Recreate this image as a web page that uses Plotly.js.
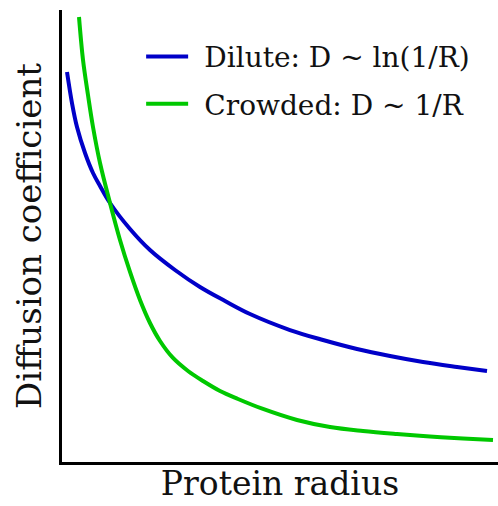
<!DOCTYPE html>
<html>
<head>
<meta charset="utf-8">
<script src="https://cdn.plot.ly/plotly-3.0.1.min.js"></script>
<style>html,body{margin:0;padding:0;background:#fff;}#chart{width:498px;height:506px;}</style>
</head>
<body>
<div id="chart"></div>
<script>
// Arbitrary units
const diluteR = [0.115, 0.229, 0.344, 0.528, 0.711, 0.872, 1.101, 1.560, 2.018, 2.592, 3.165, 3.739, 4.312, 5.229, 5.986, 6.766, 7.523, 8.280, 9.060, 9.748];
const diluteD = [8.628, 7.942, 7.412, 6.836, 6.394, 6.106, 5.730, 5.155, 4.690, 4.248, 3.872, 3.562, 3.274, 2.920, 2.699, 2.500, 2.345, 2.212, 2.102, 2.013];
const crowdedR = [0.390, 0.482, 0.596, 0.711, 0.872, 1.101, 1.330, 1.560, 1.789, 2.018, 2.248, 2.546, 2.890, 3.234, 3.624, 4.037, 4.610, 5.390, 6.147, 6.904, 7.683, 8.440, 9.197, 9.885];
const crowdedD = [9.845, 8.894, 8.119, 7.412, 6.615, 5.730, 4.912, 4.204, 3.584, 3.075, 2.677, 2.301, 2.013, 1.792, 1.571, 1.394, 1.173, 0.929, 0.774, 0.686, 0.619, 0.564, 0.520, 0.487];
const seriesNames = ['Dilute: D ~ ln(1/R)', 'Crowded: D ~ 1/R'];
const xTitle = 'Protein radius';
const yTitle = 'Diffusion coefficient';

const font = 'DejaVu Serif, serif';
const pad = '\u2009\u2009';
const traces = [
  {x: diluteR, y: diluteD, name: pad + seriesNames[0], mode: 'lines', legendgroup: 'a',
   line: {color: 'rgb(0,0,200)', width: 4, shape: 'spline'}},
  {x: crowdedR, y: crowdedD, name: pad + seriesNames[1], mode: 'lines', legendgroup: 'b',
   line: {color: 'rgb(0,200,0)', width: 4, shape: 'spline'}}
];
const layout = {
  width: 498, height: 506,
  margin: {l: 62, r: 0, t: 10, b: 44},
  paper_bgcolor: '#fff', plot_bgcolor: '#fff',
  font: {family: font, color: '#111'},
  showlegend: true,
  legend: {x: 0.1815, y: 0.952, xanchor: 'left', yanchor: 'top', bgcolor: 'rgba(0,0,0,0)',
           font: {family: font, size: 28, color: '#111'}, tracegroupgap: 8, itemwidth: 42},
  xaxis: {range: [0, 10], showgrid: false, zeroline: false, showticklabels: false, ticks: '',
          showline: true, linecolor: '#000', linewidth: 3, fixedrange: true,
          title: {text: xTitle, font: {family: font, size: 33, color: '#111'}, standoff: 8}},
  yaxis: {range: [0, 10], showgrid: false, zeroline: false, showticklabels: false, ticks: '',
          showline: true, linecolor: '#000', linewidth: 3, fixedrange: true,
          title: {text: yTitle, font: {family: font, size: 34, color: '#111'}, standoff: 8}}
};
Plotly.newPlot('chart', traces, layout, {staticPlot: true, displayModeBar: false});
</script>
</body>
</html>
